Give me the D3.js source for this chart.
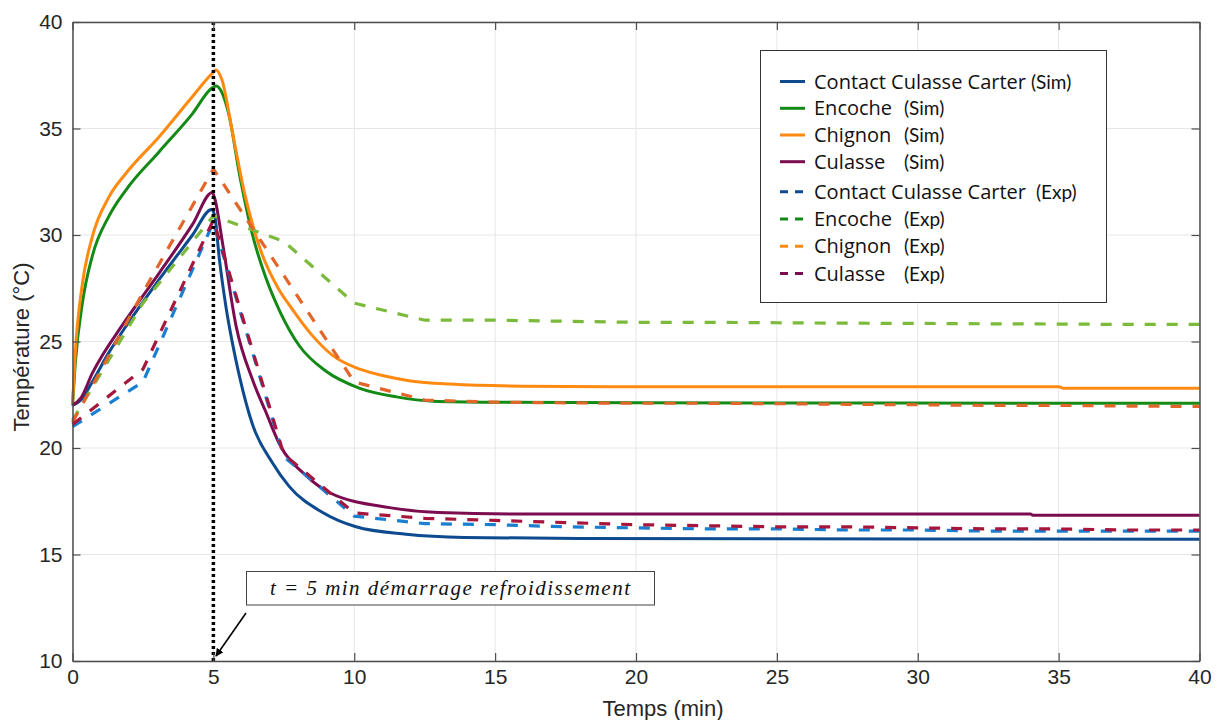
<!DOCTYPE html>
<html>
<head>
<meta charset="utf-8">
<script src="https://cdn.jsdelivr.net/npm/d3@7"></script>
<style>
  html, body { margin: 0; padding: 0; background: #fff; }
  svg { display: block; }
</style>
</head>
<body>
<svg id="chart" width="1223" height="720"></svg>
<script>
// ---------- DATA ----------
const xTicks = [0, 5, 10, 15, 20, 25, 30, 35, 40];
const yTicks = [10, 15, 20, 25, 30, 35, 40];

// Simulated series (smooth)
const simContactT = [0, 0.3, 0.7, 1.3, 1.89, 3.07, 4.26, 4.94, 5.05, 5.21, 5.45, 5.68, 5.92, 6.39, 7.1, 7.69, 8.88, 10.06, 11.84, 13.9, 18, 40];
const simContactV = [22, 22.25, 23.1, 24.5, 25.7, 27.9, 30.0, 31.2, 30.9, 28.9, 26.6, 24.9, 23.4, 21.1, 19.3, 18.2, 16.97, 16.3, 15.95, 15.8, 15.75, 15.72];

const simEncocheT = [0, 0.1, 0.35, 0.7, 1.3, 1.89, 3.07, 4.26, 4.95, 5.1, 5.3, 5.56, 5.92, 6.39, 6.86, 7.4, 8.05, 9.0, 10.2, 11.5, 12.8, 15, 20, 40];
const simEncocheV = [22, 24.0, 26.8, 29.0, 30.9, 32.1, 33.9, 35.7, 36.9, 37.0, 36.7, 35.6, 32.9, 30.0, 28.0, 26.3, 24.8, 23.6, 22.8, 22.4, 22.2, 22.15, 22.12, 22.1];

const simChignonT = [0, 0.1, 0.35, 0.7, 1.3, 1.9, 3.07, 4.26, 4.97, 5.1, 5.3, 5.68, 6.1, 6.7, 7.3, 7.81, 8.5, 9.23, 10.2, 11.0, 12.0, 13.4, 16, 20, 35, 35.2, 40];
const simChignonV = [22, 24.5, 27.7, 29.9, 31.8, 32.9, 34.6, 36.5, 37.6, 37.75, 37.3, 34.8, 32.0, 29.2, 27.5, 26.5, 25.3, 24.35, 23.7, 23.4, 23.15, 23.0, 22.9, 22.87, 22.87, 22.8, 22.8];

const simCulasseT = [0, 0.3, 0.7, 1.89, 3.07, 4.26, 4.96, 5.05, 5.34, 5.81, 6.39, 6.86, 7.34, 8.29, 9.13, 11.25, 13.0, 15.6, 34, 34.1, 40];
const simCulasseV = [22, 22.35, 23.5, 26.0, 28.2, 30.5, 32.0, 31.7, 29.5, 25.7, 23.2, 21.7, 20.2, 18.7, 17.9, 17.2, 16.97, 16.9, 16.9, 16.84, 16.84];

// Experimental series (sampled every 2.5 min)
const expTime = [0, 2.5, 5, 7.5, 10, 12.5, 15, 17.5, 20, 22.5, 25, 27.5, 30, 32.5, 35, 37.5, 40];
const expContactV = [21.0, 23.1, 30.6, 19.6, 16.8, 16.45, 16.4, 16.3, 16.25, 16.2, 16.2, 16.15, 16.15, 16.1, 16.1, 16.1, 16.1];
const expEncocheV = [21.3, 26.8, 30.9, 29.7, 26.8, 26.0, 26.0, 25.95, 25.9, 25.9, 25.88, 25.86, 25.85, 25.83, 25.82, 25.8, 25.8];
const expChignonV = [21.2, 27.3, 33.1, 28.1, 23.1, 22.25, 22.15, 22.12, 22.1, 22.1, 22.08, 22.05, 22.03, 22.0, 22.0, 21.97, 21.95];
const expCulasseV = [21.1, 23.7, 30.7, 19.7, 16.95, 16.7, 16.6, 16.5, 16.4, 16.35, 16.3, 16.3, 16.25, 16.2, 16.2, 16.15, 16.15];

const legendNames = ["Contact Culasse Carter", "Encoche", "Chignon", "Culasse", "Contact Culasse Carter", "Encoche", "Chignon", "Culasse"];
const legendTags = ["(Sim)", "(Sim)", "(Sim)", "(Sim)", "(Exp)", "(Exp)", "(Exp)", "(Exp)"];
const annotationText = "t = 5 min démarrage refroidissement";
const coolingStart = 5;

// ---------- STYLE ----------
const simColors = ["#0e4a8e", "#138a16", "#ff8a12", "#7b0c50"];
const expColors = ["#1a7fd0", "#7bba3b", "#e2652a", "#a5173d"];

const svg = d3.select("#chart");
const pL = 72.5, pR = 1199.5, pT = 22, pB = 661;

const x = d3.scaleLinear().domain([0, 40]).range([pL, pR]);
const y = d3.scaleLinear().domain([10, 40]).range([pB, pT]);

// grid
const grid = svg.append("g");
grid.selectAll("line.gx").data(xTicks).join("line").attr("class", "gx")
  .attr("x1", d => x(d)).attr("x2", d => x(d)).attr("y1", pT).attr("y2", pB)
  .attr("stroke", "#e6e6e6").attr("stroke-width", 1);
grid.selectAll("line.gy").data(yTicks).join("line").attr("class", "gy")
  .attr("x1", pL).attr("x2", pR).attr("y1", d => y(d)).attr("y2", d => y(d))
  .attr("stroke", "#e6e6e6").attr("stroke-width", 1);

// lines
const line = d3.line().x(d => x(d[0])).y(d => y(d[1]));
const smooth = d3.line().x(d => x(d[0])).y(d => y(d[1])).curve(d3.curveMonotoneX);
const zip = (a, b) => a.map((v, i) => [v, b[i]]);

const plot = svg.append("g");
const simSeries = [
  zip(simContactT, simContactV), zip(simEncocheT, simEncocheV),
  zip(simChignonT, simChignonV), zip(simCulasseT, simCulasseV)
];
const expSeries = [expContactV, expEncocheV, expChignonV, expCulasseV].map(v => zip(expTime, v));

simSeries.forEach((s, i) => {
  plot.append("path").attr("d", smooth(s)).attr("fill", "none")
    .attr("stroke", simColors[i]).attr("stroke-width", 3).attr("stroke-linejoin", "round");
});
expSeries.forEach((s, i) => {
  plot.append("path").attr("d", line(s)).attr("fill", "none")
    .attr("stroke", expColors[i]).attr("stroke-width", 3.2).attr("stroke-dasharray", "11,11");
});

// dotted vertical line
svg.append("line").attr("x1", x(coolingStart)).attr("x2", x(coolingStart))
  .attr("y1", pT).attr("y2", pB)
  .attr("stroke", "#000").attr("stroke-width", 3.5).attr("stroke-dasharray", "3,3");

// axes frame with inward ticks
const tickCol = "#4d4d4d";
const styleAxis = g => {
  g.select(".domain").attr("stroke", tickCol).attr("stroke-width", 1.5);
  g.selectAll(".tick line").attr("stroke", tickCol).attr("stroke-width", 1.2);
  g.selectAll("text").attr("font-family", "Liberation Sans, Arial, sans-serif").attr("font-size", 21).attr("fill", "#262626");
};
svg.append("g").attr("transform", `translate(0,${pB})`)
  .call(d3.axisBottom(x).tickValues(xTicks).tickSizeInner(-8).tickSizeOuter(0).tickPadding(8))
  .call(styleAxis);
svg.append("g").attr("transform", `translate(0,${pT})`)
  .call(d3.axisTop(x).tickValues(xTicks).tickSizeInner(-8).tickSizeOuter(0).tickFormat(""))
  .call(styleAxis);
svg.append("g").attr("transform", `translate(${pL},0)`)
  .call(d3.axisLeft(y).tickValues(yTicks).tickSizeInner(-8).tickSizeOuter(0).tickPadding(10))
  .call(styleAxis);
svg.append("g").attr("transform", `translate(${pR},0)`)
  .call(d3.axisRight(y).tickValues(yTicks).tickSizeInner(-8).tickSizeOuter(0).tickFormat(""))
  .call(styleAxis);

// axis titles
svg.append("text").attr("x", 663).attr("y", 716)
  .attr("text-anchor", "middle").attr("font-family", "Liberation Sans, Arial, sans-serif")
  .attr("font-size", 22).attr("fill", "#262626").text("Temps (min)");
svg.append("text").attr("transform", `translate(29,347) rotate(-90)`)
  .attr("text-anchor", "middle").attr("font-family", "Liberation Sans, Arial, sans-serif")
  .attr("font-size", 22).attr("fill", "#262626").text("Température (°C)");

// legend
const lg = svg.append("g");
lg.append("rect").attr("x", 760.5).attr("y", 50.5).attr("width", 346).attr("height", 252)
  .attr("fill", "#fff").attr("stroke", "#333").attr("stroke-width", 1);
const rowY = [81.5, 108.3, 135, 161.7, 191.7, 219, 246.3, 273.5];
legendNames.forEach((name, i) => {
  const yy = rowY[i];
  const col = simColors[i % 4];
  lg.append("line").attr("x1", 780).attr("x2", 805).attr("y1", yy).attr("y2", yy)
    .attr("stroke", col).attr("stroke-width", 3)
    .attr("stroke-dasharray", i < 4 ? null : "8,7");
  const t = lg.append("text").attr("x", 814).attr("y", yy + 7)
    .attr("font-family", "Open Sans, sans-serif").attr("font-size", 20).attr("fill", "#111").text(name);
  const w = t.node().getComputedTextLength();
  const tx = Math.max(814 + w + (i < 4 ? 5 : 10), 904);
  lg.append("text").attr("x", tx).attr("y", yy + 7)
    .attr("font-family", "Lato, sans-serif").attr("font-size", 19).attr("fill", "#111").text(legendTags[i]);
});

// annotation
const ann = svg.append("g");
ann.append("rect").attr("x", 246.5).attr("y", 571.5).attr("width", 408).attr("height", 33.5)
  .attr("fill", "#fff").attr("stroke", "#444").attr("stroke-width", 1);
ann.append("text").attr("x", 270).attr("y", 595)
  .attr("font-family", "Liberation Serif, DejaVu Serif, serif").attr("font-style", "italic")
  .attr("font-size", 21).attr("fill", "#111")
  .attr("textLength", 360).attr("lengthAdjust", "spacing").text(annotationText);
svg.append("defs").append("marker").attr("id", "arr").attr("viewBox", "0 0 10 10")
  .attr("refX", 9).attr("refY", 5).attr("markerWidth", 8).attr("markerHeight", 8)
  .attr("orient", "auto-start-reverse").attr("markerUnits", "userSpaceOnUse")
  .append("path").attr("d", "M0,0 L10,5 L0,10 z").attr("fill", "#000");
ann.append("line").attr("x1", 246).attr("y1", 613).attr("x2", 216).attr("y2", 656)
  .attr("stroke", "#000").attr("stroke-width", 1.6).attr("marker-end", "url(#arr)");
</script>
</body>
</html>
